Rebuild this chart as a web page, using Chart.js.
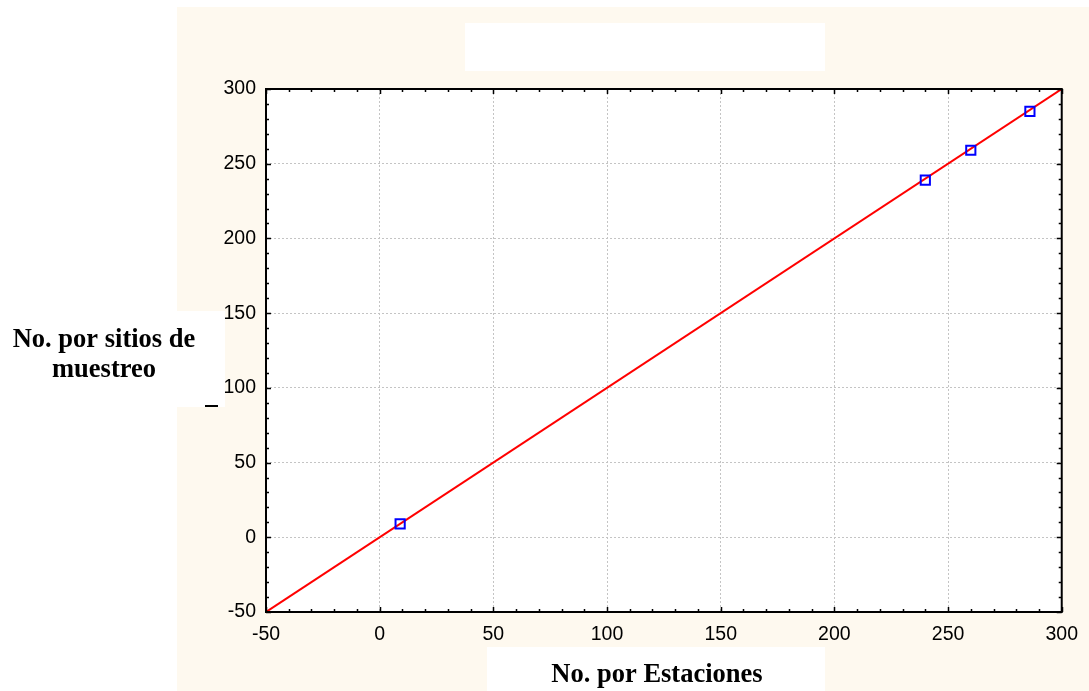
<!DOCTYPE html>
<html>
<head>
<meta charset="utf-8">
<script src="https://cdn.jsdelivr.net/npm/chart.js@4/dist/chart.umd.min.js"></script>
<style>
    html, body { margin: 0; padding: 0; background: #fff; }
    #wrap { width: 1089px; height: 691px; }
</style>
</head>
<body>
<div id="wrap"><canvas id="scatterChart" width="1089" height="691"></canvas></div>
<script>
// observed points
const estaciones = [9, 240, 260, 286];
const sitios = [9, 239, 259, 285];

// fitted line (y = x) end points
const fitX = [-50, 300];
const fitY = [-50, 300];

// axis ticks
const tickValues = [-50, 0, 50, 100, 150, 200, 250, 300];
const minorStep = 10;

const xTitle = 'No. por Estaciones';
const yTitle = ['No. por sitios de', 'muestreo'];

const CREAM = '#FEF9EF';

const pagePlugin = {
    id: 'page',
    beforeDraw(chart) {
        const ctx = chart.ctx;
        const a = chart.chartArea;
        ctx.save();
        ctx.fillStyle = '#fff';
        ctx.fillRect(0, 0, chart.width, chart.height);
        ctx.fillStyle = CREAM;
        ctx.fillRect(177, 7, chart.width - 177, chart.height - 7);
        // blank boxes (title, axis titles)
        ctx.fillStyle = '#fff';
        ctx.fillRect(465, 23, 360, 48);
        ctx.fillRect(0, 311, 225, 96);
        ctx.fillRect(487, 647, 338, 44);
        // plot background
        ctx.fillRect(a.left, a.top, a.right - a.left, a.bottom - a.top);
        ctx.restore();
    },
    afterDraw(chart) {
        const ctx = chart.ctx;
        const a = chart.chartArea;
        const xs = chart.scales.x, ys = chart.scales.y;
        ctx.save();
        // inward ticks on all four sides
        ctx.strokeStyle = '#000';
        ctx.lineWidth = 1.5;
        ctx.beginPath();
        for (let v = -50; v <= 300; v += minorStep) {
            const len = v % 50 === 0 ? 5 : 3;
            const px = Math.round(xs.getPixelForValue(v)) + 0.5;
            const py = Math.round(ys.getPixelForValue(v)) + 0.5;
            ctx.moveTo(px, a.bottom); ctx.lineTo(px, a.bottom - len);
            ctx.moveTo(px, a.top); ctx.lineTo(px, a.top + len);
            ctx.moveTo(a.left, py); ctx.lineTo(a.left + len, py);
            ctx.moveTo(a.right, py); ctx.lineTo(a.right - len, py);
        }
        ctx.stroke();
        // frame
        ctx.lineWidth = 2;
        ctx.strokeRect(a.left, a.top, a.right - a.left, a.bottom - a.top);

        // axis titles
        ctx.fillStyle = '#000';
        ctx.font = "bold 26.5px 'Liberation Serif', 'Times New Roman', serif";
        ctx.textAlign = 'center';
        ctx.textBaseline = 'alphabetic';
        ctx.fillText(yTitle[0], 104, 347);
        ctx.fillText(yTitle[1], 104, 377);
        ctx.fillText(xTitle, 657, 682);

        // stray dash left of the y axis
        ctx.fillRect(205, 405, 13, 2);
        ctx.restore();
    }
};

new Chart(document.getElementById('scatterChart'), {
    type: 'scatter',
    data: {
        datasets: [
            {
                label: 'Ajuste',
                type: 'line',
                data: fitX.map((x, i) => ({ x, y: fitY[i] })),
                borderColor: '#FF0000',
                borderWidth: 2,
                pointRadius: 0,
                fill: false,
                order: 2
            },
            {
                label: 'Datos',
                data: estaciones.map((x, i) => ({ x, y: sitios[i] })),
                pointStyle: 'rect',
                pointRadius: 6.5,
                pointBorderColor: '#0000FF',
                pointBackgroundColor: 'rgba(0,0,0,0)',
                pointBorderWidth: 2,
                order: 1
            }
        ]
    },
    options: {
        responsive: false,
        animation: false,
        layout: { autoPadding: false, padding: { top: 89, right: 24, left: 0, bottom: 0 } },
        plugins: {
            legend: { display: false },
            tooltip: { enabled: false }
        },
        scales: {
            x: {
                type: 'linear',
                min: -50,
                max: 300,
                afterBuildTicks: s => { s.ticks = tickValues.map(v => ({ value: v })); },
                afterFit: s => { s.height = 79; },
                grid: { color: '#C4C4C4', lineWidth: 1, drawTicks: false },
                border: { display: false, dash: [2, 2] },
                ticks: {
                    color: '#000',
                    padding: 11,
                    maxRotation: 0,
                    font: { family: "'Liberation Sans', Arial, sans-serif", size: 19.5 }
                }
            },
            y: {
                type: 'linear',
                min: -50,
                max: 300,
                afterBuildTicks: s => { s.ticks = tickValues.map(v => ({ value: v })); },
                afterFit: s => { s.width = 266; },
                grid: { color: '#C4C4C4', lineWidth: 1, drawTicks: false },
                border: { display: false, dash: [2, 2] },
                ticks: {
                    color: '#000',
                    padding: 10,
                    font: { family: "'Liberation Sans', Arial, sans-serif", size: 19.5 }
                }
            }
        }
    },
    plugins: [pagePlugin]
});
</script>
</body>
</html>
